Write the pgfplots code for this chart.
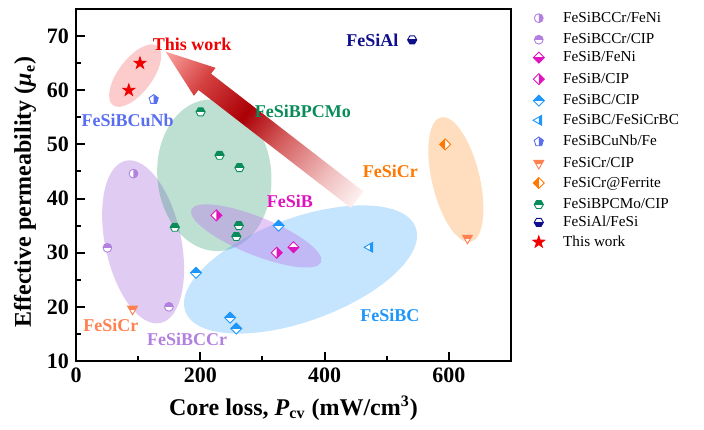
\documentclass[border=0pt]{standalone}
\usepackage{fontspec}
\setmainfont{Liberation Serif}
\usepackage{pgfplots}
\pgfplotsset{compat=1.18}

\definecolor{cCCr}{RGB}{178,128,222}
\definecolor{cB}{RGB}{222,20,190}
\definecolor{cBC}{RGB}{30,150,250}
\definecolor{cCuNb}{RGB}{90,110,240}
\definecolor{cCrCIP}{RGB}{255,128,80}
\definecolor{cCrF}{RGB}{255,120,0}
\definecolor{cPC}{RGB}{10,140,90}
\definecolor{cAl}{RGB}{15,15,140}
\definecolor{cTW}{RGB}{240,0,0}
\definecolor{eB}{RGB}{190,120,235}

% arrow colours, tail to tip
\definecolor{ar0}{RGB}{253,240,240}
\definecolor{ar1}{RGB}{240,190,190}
\definecolor{ar2}{RGB}{212,92,92}
\definecolor{ar3}{RGB}{170,0,6}
\definecolor{ar4}{RGB}{212,64,64}
\definecolor{ar5}{RGB}{252,165,160}
\pgfdeclarehorizontalshading{arrowsh}{100bp}{color(0bp)=(ar0); color(25bp)=(ar0); color(33bp)=(ar1); color(45bp)=(ar2); color(54bp)=(ar3); color(65bp)=(ar4); color(75bp)=(ar5); color(100bp)=(ar5)}

% marker outlines
\def\pCircle{\pgfpathcircle{\pgfpointorigin}{\pgfplotmarksize}}
\def\pDiamond{\pgfpathmoveto{\pgfpoint{0pt}{1.25\pgfplotmarksize}}%
  \pgfpathlineto{\pgfpoint{1.25\pgfplotmarksize}{0pt}}%
  \pgfpathlineto{\pgfpoint{0pt}{-1.25\pgfplotmarksize}}%
  \pgfpathlineto{\pgfpoint{-1.25\pgfplotmarksize}{0pt}}\pgfpathclose}
\def\pHex{\pgfpathmoveto{\pgfpointpolar{0}{1.05\pgfplotmarksize}}%
  \pgfpathlineto{\pgfpointpolar{60}{1.05\pgfplotmarksize}}%
  \pgfpathlineto{\pgfpointpolar{120}{1.05\pgfplotmarksize}}%
  \pgfpathlineto{\pgfpointpolar{180}{1.05\pgfplotmarksize}}%
  \pgfpathlineto{\pgfpointpolar{240}{1.05\pgfplotmarksize}}%
  \pgfpathlineto{\pgfpointpolar{300}{1.05\pgfplotmarksize}}\pgfpathclose}
\def\pPent{\pgfpathmoveto{\pgfpointpolar{90}{1.1\pgfplotmarksize}}%
  \pgfpathlineto{\pgfpointpolar{162}{1.1\pgfplotmarksize}}%
  \pgfpathlineto{\pgfpointpolar{234}{1.1\pgfplotmarksize}}%
  \pgfpathlineto{\pgfpointpolar{306}{1.1\pgfplotmarksize}}%
  \pgfpathlineto{\pgfpointpolar{18}{1.1\pgfplotmarksize}}\pgfpathclose}
\def\pTriDown{\pgfpathmoveto{\pgfpointpolar{270}{1.3\pgfplotmarksize}}%
  \pgfpathlineto{\pgfpointpolar{30}{1.3\pgfplotmarksize}}%
  \pgfpathlineto{\pgfpointpolar{150}{1.3\pgfplotmarksize}}\pgfpathclose}
\def\pTriLeft{\pgfpathmoveto{\pgfpointpolar{180}{1.3\pgfplotmarksize}}%
  \pgfpathlineto{\pgfpointpolar{60}{1.3\pgfplotmarksize}}%
  \pgfpathlineto{\pgfpointpolar{300}{1.3\pgfplotmarksize}}\pgfpathclose}
% half planes used to colour one half of a marker
\def\cTop{\pgfpathrectangle{\pgfpoint{-2\pgfplotmarksize}{0pt}}{\pgfpoint{4\pgfplotmarksize}{2\pgfplotmarksize}}}
\def\cBot{\pgfpathrectangle{\pgfpoint{-2\pgfplotmarksize}{-2\pgfplotmarksize}}{\pgfpoint{4\pgfplotmarksize}{2\pgfplotmarksize}}}
\def\cRight{\pgfpathrectangle{\pgfpoint{0pt}{-2\pgfplotmarksize}}{\pgfpoint{2\pgfplotmarksize}{4\pgfplotmarksize}}}
\def\cLeft{\pgfpathrectangle{\pgfpoint{-2\pgfplotmarksize}{-2\pgfplotmarksize}}{\pgfpoint{2\pgfplotmarksize}{4\pgfplotmarksize}}}
\newcommand\halfmark[3]{%
  \pgfdeclareplotmark{#1}{%
    \pgfscope\pgfsetfillcolor{white}#2\pgfusepath{fill}\endpgfscope
    \pgfscope#3\pgfusepath{clip}#2\pgfusepath{fill}\endpgfscope
    #2\pgfusepath{stroke}}}
\halfmark{circR}{\pCircle}{\cRight}
\halfmark{circT}{\pCircle}{\cTop}
\halfmark{diaB}{\pDiamond}{\cBot}
\halfmark{diaR}{\pDiamond}{\cRight}
\halfmark{diaT}{\pDiamond}{\cTop}
\halfmark{diaL}{\pDiamond}{\cLeft}
\halfmark{triLR}{\pTriLeft}{\cRight}
\halfmark{pentR}{\pPent}{\cRight}
\halfmark{triDT}{\pTriDown}{\cTop}
\halfmark{hexT}{\pHex}{\cTop}
\halfmark{hexB}{\pHex}{\cBot}
\pgfdeclareplotmark{fstar}{%
  \pgfpathmoveto{\pgfpointpolar{90}{1.4\pgfplotmarksize}}%
  \pgfpathlineto{\pgfpointpolar{126}{0.55\pgfplotmarksize}}%
  \pgfpathlineto{\pgfpointpolar{162}{1.4\pgfplotmarksize}}%
  \pgfpathlineto{\pgfpointpolar{198}{0.55\pgfplotmarksize}}%
  \pgfpathlineto{\pgfpointpolar{234}{1.4\pgfplotmarksize}}%
  \pgfpathlineto{\pgfpointpolar{270}{0.55\pgfplotmarksize}}%
  \pgfpathlineto{\pgfpointpolar{306}{1.4\pgfplotmarksize}}%
  \pgfpathlineto{\pgfpointpolar{342}{0.55\pgfplotmarksize}}%
  \pgfpathlineto{\pgfpointpolar{18}{1.4\pgfplotmarksize}}%
  \pgfpathlineto{\pgfpointpolar{54}{0.55\pgfplotmarksize}}\pgfpathclose
  \pgfusepath{fill,stroke}}

\pgfplotsset{
  mk/.style={only marks, mark size=2.2pt, mark options={line width=0.45pt},
    legend image code/.code={\path (-6pt,0pt) (6pt,0pt);
      \draw[##1] plot coordinates {(0pt,0pt)};}},
}
\tikzset{lab/.style={font=\bfseries\fontsize{9}{11}\selectfont, inner sep=0pt}}

\begin{document}
\begin{tikzpicture}
\begin{axis}[
  name=ax, at={(0,0)}, anchor=south west,
  scale only axis, width=217.5pt, height=176pt,
  xmin=0, xmax=700, ymin=10, ymax=75,
  xtick={0,200,400,600}, minor xtick={100,300,500},
  ytick={10,20,...,70}, minor ytick={15,25,...,65},
  tick pos=left, tick align=inside,
  major tick length=4.5pt, minor tick length=2.5pt,
  every tick/.style={line width=1pt, black},
  axis line style={line width=1pt},
  ticklabel style={font=\bfseries\fontsize{11}{13}\selectfont},
  /pgf/number format/assume math mode=true,
  every axis y label/.style={at={(axis description cs:-0.117,0.48)}, rotate=90, anchor=center},
  every axis x label/.style={at={(axis description cs:0.5,-0.134)}, anchor=center},
  label style={font=\bfseries\fontsize{12}{14}\selectfont},
  xlabel={Core loss, \textit{P}\textsubscript{cv} (mW/cm\textsuperscript{3})},
  ylabel={Effective permeability (\textit{μ}\textsubscript{e})},
  clip=false,
  legend cell align=left,
  legend style={at={(axis description cs:1,1)}, anchor=north west,
    xshift=7.5pt, yshift=0pt, draw=none, fill=none, inner sep=0pt,
    font=\fontsize{7.6}{9}\selectfont, row sep=1.95pt, column sep=6pt,
    nodes={inner sep=0pt, text height=5.5pt, text depth=1.5pt}},
]
% group outlines
\fill[cCCr, fill opacity=0.4, rotate around={102:(axis cs:108,32)}] (axis cs:108,32) ellipse [x radius=41.5pt, y radius=19pt];
\fill[cPC, fill opacity=0.27, rotate around={95:(axis cs:222.6,44.3)}] (axis cs:222.6,44.3) ellipse [x radius=38pt, y radius=28.5pt];
\fill[cBC, fill opacity=0.26, rotate around={20:(axis cs:361.3,26.9)}] (axis cs:361.3,26.9) ellipse [x radius=61.3pt, y radius=25.8pt];
\fill[eB, fill opacity=0.4, rotate around={-22:(axis cs:290,33.1)}] (axis cs:290,33.1) ellipse [x radius=35pt, y radius=9.5pt];
\fill[cCrF, fill opacity=0.25, rotate around={103.5:(axis cs:611.3,43.5)}] (axis cs:611.3,43.5) ellipse [x radius=32pt, y radius=11.9pt];
\fill[cTW, fill opacity=0.2, rotate around={53:(axis cs:95.2,62.7)}] (axis cs:95.2,62.7) ellipse [x radius=18.5pt, y radius=8.5pt];
\coordinate (arrT) at (axis cs:452.4,39.8);
\coordinate (labPC) at (axis cs:365,56.1);

\addplot[mk, mark=circR, color=cCCr] coordinates {(92.5,44.6)};
\addlegendentry{FeSiBCCr/FeNi}
\addplot[mk, mark=circT, color=cCCr] coordinates {(50.5,30.9) (149.5,20)};
\addlegendentry{FeSiBCCr/CIP}
\addplot[mk, mark=diaB, color=cB] coordinates {(350,31)};
\addlegendentry{FeSiB/FeNi}
\addplot[mk, mark=diaR, color=cB] coordinates {(226,36.9) (323,30)};
\addlegendentry{FeSiB/CIP}
\addplot[mk, mark=diaT, color=cBC] coordinates {(326,35) (193,26.3) (248,18) (258,16)};
\addlegendentry{FeSiBC/CIP}
\addplot[mk, mark=triLR, color=cBC] coordinates {(473,31)};
\addlegendentry{FeSiBC/FeSiCrBC}
\addplot[mk, mark=pentR, color=cCuNb] coordinates {(125,58.3)};
\addlegendentry{FeSiBCuNb/Fe}
\addplot[mk, mark=triDT, color=cCrCIP] coordinates {(91,19.6) (630,32.7)};
\addlegendentry{FeSiCr/CIP}
\addplot[mk, mark=diaL, color=cCrF] coordinates {(594,50)};
\addlegendentry{FeSiCr@Ferrite}
\addplot[mk, mark=hexT, color=cPC] coordinates {(200.5,56) (231,48) (263,45.7) (159,34.7) (262,35) (258,33)};
\addlegendentry{FeSiBPCMo/CIP}
\addplot[mk, mark=hexB, color=cAl] coordinates {(541,69.3)};
\addlegendentry{FeSiAl/FeSi}
\addplot[mk, mark=fstar, color=cTW] coordinates {(85,60) (103,65)};
\addlegendentry{This work}

\node[lab, text=cTW] at (axis cs:187,68.5) {This work};
\node[lab, text=cAl] at (axis cs:477,69.3) {FeSiAl};
\node[lab, text=cCuNb] at (axis cs:83,54.5) {FeSiBCuNb};
\node[lab, text=cCrF] at (axis cs:506,45) {FeSiCr};
\node[lab, text=cB] at (axis cs:344,39.5) {FeSiB};
\node[lab, text=cBC] at (axis cs:505,18.5) {FeSiBC};
\node[lab, text=cCrCIP] at (axis cs:56,16.5) {FeSiCr};
\node[lab, text=cCCr] at (axis cs:179,14) {FeSiBCCr};
\end{axis}

% trend arrow towards low loss and high permeability
\begin{scope}[transform canvas={shift={(arrT)}, rotate=142.3}]
  \shade[shading=arrowsh] (0pt,-5.15pt) -- (96.3pt,-5.15pt) -- (96.3pt,-8.85pt) -- (121pt,0pt)
    -- (96.3pt,8.85pt) -- (96.3pt,5.15pt) -- (0pt,5.15pt) -- cycle;
\end{scope}
\node[lab, text=cPC] at (labPC) {FeSiBPCMo};

\pgfresetboundingbox
\path[use as bounding box] ([shift={(-38pt,-34pt)}]ax.south west) rectangle ([shift={(314pt,180.5pt)}]ax.south west);
\end{tikzpicture}
\end{document}
